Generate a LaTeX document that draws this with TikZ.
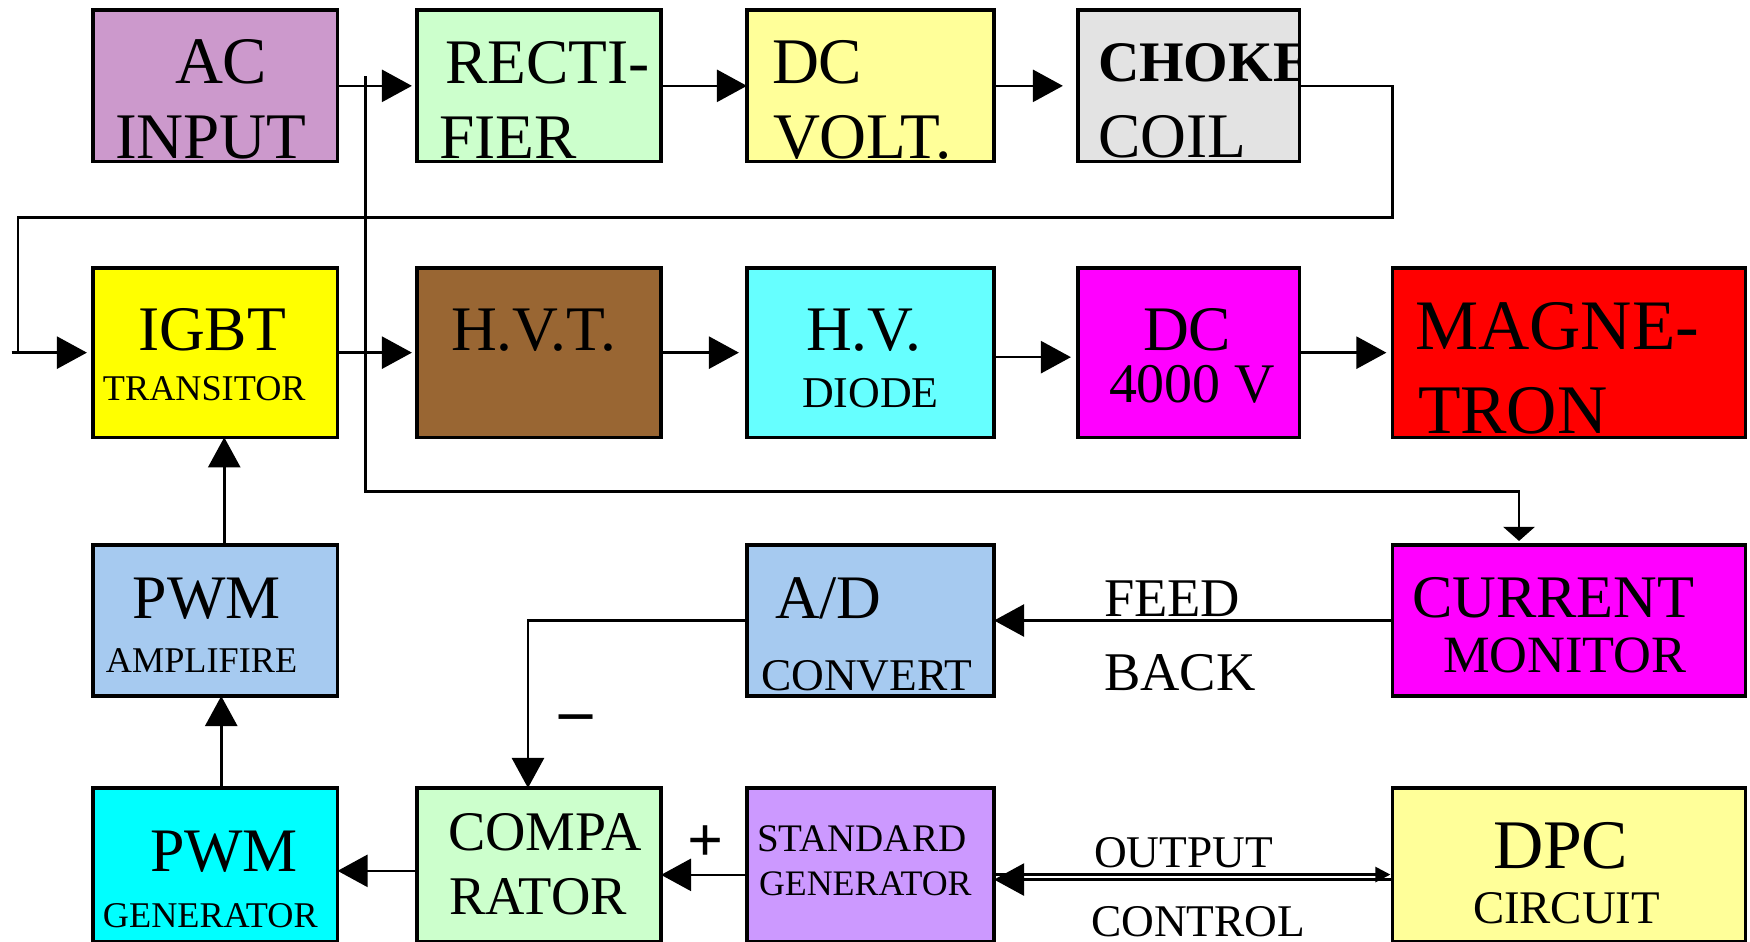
\documentclass[tikz,border=0pt]{standalone}
\usepackage{fontspec}
\setmainfont{Liberation Serif}
\usetikzlibrary{arrows.meta}

\definecolor{acpink}{HTML}{CC99CC}
\definecolor{mint}{HTML}{CCFFCC}
\definecolor{paleyel}{HTML}{FFFF99}
\definecolor{chokegray}{HTML}{E3E3E3}
\definecolor{igbtyel}{HTML}{FFFF00}
\definecolor{hvtbrown}{HTML}{996633}
\definecolor{hvdcyan}{HTML}{66FFFF}
\definecolor{fuchsia}{HTML}{FF00FF}
\definecolor{magred}{HTML}{FF0000}
\definecolor{skyblue}{HTML}{A6CAF0}
\definecolor{aqua}{HTML}{00FFFF}
\definecolor{stdlilac}{HTML}{CC99FF}

\newcommand{\fsz}[1]{\fontsize{#1}{#1}\selectfont}

\begin{document}
\begin{tikzpicture}[x=0.01cm, y=-0.01cm]
\tikzstyle{blk}=[draw=black, line width=0.9pt, rectangle, inner sep=0pt, outer sep=0pt]
\tikzstyle{txt}=[anchor=base west, inner sep=0pt, outer sep=0pt]
\tikzstyle{sign}=[inner sep=0pt, outer sep=0pt, font=\bfseries]
\tikzstyle{arr}=[line width=0.75pt, -{Triangle[length=3mm, width=3.2mm]}]
\tikzstyle{arrsmall}=[line width=0.75pt, -{Triangle[length=1.4mm, width=3.1mm]}]
\tikzstyle{arrtiny}=[line width=0.75pt, -{Triangle[length=1.5mm, width=1.5mm]}]
\tikzstyle{colA}=[minimum width=2.445cm]
\tikzstyle{colB}=[minimum width=2.44cm]
\tikzstyle{colC}=[minimum width=2.47cm]
\tikzstyle{colD}=[minimum width=2.215cm]
\tikzstyle{colE}=[minimum width=3.525cm]
\tikzstyle{rowA}=[minimum height=1.517cm]
\tikzstyle{rowB}=[minimum height=1.693cm]
\tikzstyle{rowC}=[minimum height=1.51cm]
\tikzstyle{rowD}=[minimum height=1.537cm]

\useasboundingbox (0,0) rectangle (1750,942);

% first row
\node (acin) at (215.25,85.85) [blk, colA, rowA, fill=acpink] {};
\node (rect) at (539,85.85) [blk, colB, rowA, fill=mint] {};
\node (dcv) at (870.5,85.85) [blk, colC, rowA, fill=paleyel] {};
\node (choke) at (1188.75,85.85) [blk, colD, rowA, fill=chokegray] {};

% second row
\node (igbt) at (215.25,352.65) [blk, colA, rowB, fill=igbtyel] {};
\node (hvt) at (539,352.65) [blk, colB, rowB, fill=hvtbrown] {};
\node (hvd) at (870.5,352.65) [blk, colC, rowB, fill=hvdcyan] {};
\node (dchv) at (1188.75,352.65) [blk, colD, rowB, fill=fuchsia] {};
\node (magn) at (1568.75,352.65) [blk, colE, rowB, fill=magred] {};

% third row
\node (pwmamp) at (215.25,620.5) [blk, colA, rowC, fill=skyblue] {};
\node (adc) at (870.5,620.5) [blk, colC, rowC, fill=skyblue] {};
\node (curmon) at (1568.75,620.5) [blk, colE, rowC, fill=fuchsia] {};

% fourth row
\node (pwmgen) at (215.25,864.85) [blk, colA, rowD, fill=aqua] {};
\node (comp) at (539,864.85) [blk, colB, rowD, fill=mint] {};
\node (stdgen) at (870.5,864.85) [blk, colC, rowD, fill=stdlilac] {};
\node (dpc) at (1568.75,864.85) [blk, colE, rowD, fill=paleyel] {};

% box texts
\node (acin-a) at (175,83) [txt] {\fsz{18.9}AC};
\node (acin-b) at (115,158) [txt] {\fsz{18.5}INPUT};
\node (rect-a) at (445,83) [txt] {\fsz{18.05}RECTI-};
\node (rect-b) at (439,158) [txt] {\fsz{18.05}FIER};
\node (dcv-a) at (772,83) [txt] {\fsz{18.5}DC};
\node (dcv-b) at (773,158) [txt] {\fsz{18.5}VOLT.};
\begin{scope}
\clip (choke.south west) rectangle (choke.north east);
\node (choke-a) at (1098,81) [txt] {\fsz{16.3}\bfseries CHOKE};
\end{scope}
\node (choke-b) at (1098,157) [txt] {\fsz{18.05}COIL};
\node (igbt-a) at (138,350) [txt] {\fsz{18.05}IGBT};
\node (igbt-b) at (103,400) [txt] {\fsz{10.3}TRANSITOR};
\node (hvt-a) at (451,350) [txt] {\fsz{18.05}H.V.T.};
\node (hvd-a) at (806,350) [txt] {\fsz{18.05}H.V.};
\node (hvd-b) at (802,407) [txt] {\fsz{12.5}DIODE};
\node (dchv-a) at (1143,350) [txt] {\fsz{18.05}DC};
\node (dchv-b) at (1109,402) [txt] {\fsz{15.9}4000 V};
\node (magn-a) at (1415,349) [txt] {\fsz{20.2}MAGNE-};
\node (magn-b) at (1418,433) [txt] {\fsz{19.8}TRON};
\node (pwmamp-a) at (133,618) [txt] {\fsz{17.6}PWM};
\node (pwmamp-b) at (106,672) [txt] {\fsz{10.3}AMPLIFIRE};
\node (adc-a) at (775,618) [txt] {\fsz{17.6}A/D};
\node (adc-b) at (761,690) [txt] {\fsz{12.9}CONVERT};
\node (curmon-a) at (1412,617) [txt] {\fsz{17.2}CURRENT};
\node (curmon-b) at (1443,672) [txt] {\fsz{14.9}MONITOR};
\node (pwmgen-a) at (150,871) [txt] {\fsz{17.6}PWM};
\node (pwmgen-b) at (103,927) [txt] {\fsz{10.3}GENERATOR};
\node (comp-a) at (448,850) [txt] {\fsz{15.9}COMPA};
\node (comp-b) at (449,914) [txt] {\fsz{15.5}RATOR};
\node (stdgen-a) at (757,851) [txt] {\fsz{11.1}STANDARD};
\node (stdgen-b) at (759,895) [txt] {\fsz{10.2}GENERATOR};
\node (dpc-a) at (1493,868) [txt] {\fsz{19.8}DPC};
\node (dpc-b) at (1473,923) [txt] {\fsz{13.3}CIRCUIT};

% line labels
\node (fb-a) at (1104,616) [txt] {\fsz{15.5}FEED};
\node (fb-b) at (1104,690) [txt] {\fsz{15.5}BACK};
\node (oc-a) at (1094,867) [txt] {\fsz{12.9}OUTPUT};
\node (oc-b) at (1091,936) [txt] {\fsz{12.9}CONTROL};
\node (minus) at (576,724) [sign] {\fsz{18.8}--};
\node (plus) at (706,844) [sign] {\fsz{18}+};

% corner points
\coordinate (tap) at (365.7,76);
\coordinate (tapdown) at (365.7,491.7);
\coordinate (ckright) at (1392.7,217.7);
\coordinate (ckleft) at (18,217.7);
\coordinate (stub) at (11.7,352.65);

% power chain
\draw[arr, shorten >=0.5mm] (acin.east) -- (rect.west);
\draw[arr] (rect.east) -- (dcv.west);
\draw[arr, shorten >=1.5mm] (dcv.east) -- (choke.west);
\draw[arr, shorten >=0.6mm] (choke.east) -| (ckright) -- (ckleft) |- (igbt.west);
\draw[line width=0.75pt] (stub) -- (ckleft |- stub);
\draw[arr, shorten >=0.5mm] (igbt.east) -- (hvt.west);
\draw[arr, shorten >=0.8mm] (hvt.east) -- (hvd.west);
\draw[arr, shorten >=0.7mm] ([yshift=-0.45mm]hvd.east) -- ([yshift=-0.45mm]dchv.west);
\draw[arr, shorten >=0.6mm] (dchv.east) -- (magn.west);

% control loop
\draw[arrsmall, shorten >=0.4mm] (tap) -- (tapdown) -| ([xshift=-4.97mm]curmon.north);
\draw[arr] (curmon.west) -- (adc.west -| adc.east);
\draw[arr] (adc.west) -| ([xshift=-1.1mm]comp.north);
\draw[arr] ([yshift=-1mm]stdgen.west) -- ([yshift=-1mm]comp.east);
\draw[arr] ([yshift=-0.6mm]comp.west) -- ([yshift=-0.6mm]pwmgen.east);
\draw[arr] ([xshift=0.6mm]pwmgen.north) -- ([xshift=0.6mm]pwmamp.south);
\draw[arr] ([xshift=0.9mm]pwmamp.north) -- ([xshift=0.9mm]igbt.south);
\draw[arrtiny, shorten >=0.2mm] ([yshift=-0.97mm]stdgen.east) -- ([yshift=-0.97mm]dpc.west);
\draw[arr] ([yshift=-1.47mm]dpc.west) -- ([yshift=-1.47mm]stdgen.east);
\end{tikzpicture}
\end{document}
